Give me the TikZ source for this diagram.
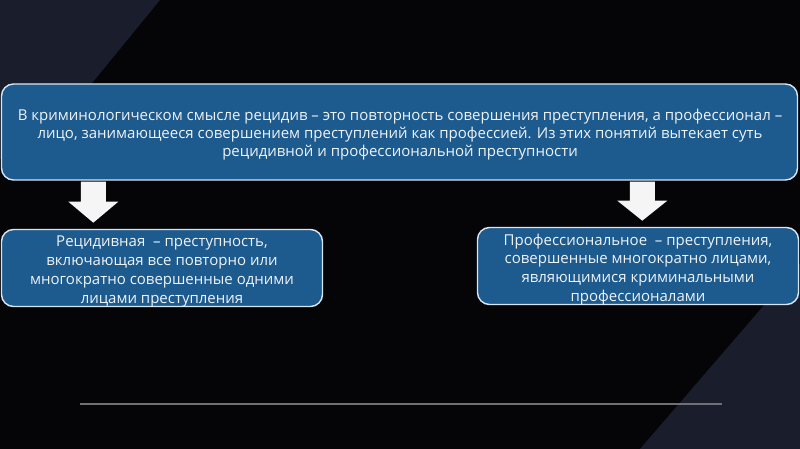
\documentclass[tikz,border=0pt]{standalone}
\usepackage{fontspec}
\setmainfont{Open Sans}
\usetikzlibrary{calc}
\definecolor{bg}{HTML}{050508}
\definecolor{bgdiag}{HTML}{1A1D2B}
\definecolor{boxfill}{HTML}{1D5A8E}
\definecolor{boxline}{HTML}{D8E6F2}
\definecolor{boxtext}{HTML}{EEF3F8}
\definecolor{rule}{HTML}{6F7075}
\begin{document}
\begin{tikzpicture}[x=1pt,y=-1pt,
  box/.style={draw=boxline, line width=1.4pt, fill=boxfill, rounded corners=12pt, inner sep=0pt},
  boxlabel/.style={text=boxtext, align=center, inner sep=0pt},
  topfont/.style={font=\fontsize{15}{18}\selectfont},
  subfont/.style={font=\fontsize{15}{18.8}\selectfont},
  blockarrow/.style={fill=white!96!black, draw=none}]
\useasboundingbox (0,0) rectangle (800,449);
\fill[bg] (0,0) rectangle (800,449);
\fill[bgdiag] (0,0) -- (160,0) -- (30,159) -- (0,159) -- cycle;
\fill[bgdiag] (640,449) -- (803,260) -- (803,449) -- cycle;

\node[box, minimum width=796pt, minimum height=96pt] (top) at (399.5,132) {};
\node[boxlabel, topfont] (toptext) at (400,135)
  {В криминологическом смысле рецидив – это повторность совершения преступления, а профессионал –\\
   лицо, занимающееся совершением преступлений как профессией. Из этих понятий вытекает суть\\
   рецидивной и профессиональной преступности};

\node[box, minimum width=321pt, minimum height=77pt] (left) at (162,268) {};
\node[boxlabel, subfont] (lefttext) at (162,271.5)
  {Рецидивная \ – преступность,\\ включающая все повторно или\\ многократно совершенные одними\\ лицами преступления};

\node[box, minimum width=321pt, minimum height=77pt] (right) at (638,266) {};
\node[boxlabel, subfont] (righttext) at (638,269.5)
  {Профессиональное \ – преступления,\\ совершенные многократно лицами,\\ являющимися криминальными\\ профессионалами};

\coordinate (a1) at ($(top.south west)+(92.5,1)$);
\coordinate (a2) at ($(top.south west)+(641.5,1)$);
\fill[blockarrow] (a1) +(-12.5,0) -- +(12.5,0) -- +(12.5,20) -- +(25,20) -- +(0,41)
  -- +(-25,20) -- +(-12.5,20) -- cycle;
\fill[blockarrow] (a2) +(-12.5,0) -- +(12.5,0) -- +(12.5,19) -- +(25,19) -- +(0,39)
  -- +(-25,19) -- +(-12.5,19) -- cycle;

\coordinate (r1) at (80,404);
\coordinate (r2) at (722,404);
\draw[rule, line width=1.2pt] (r1) -- (r2);
\end{tikzpicture}
\end{document}
